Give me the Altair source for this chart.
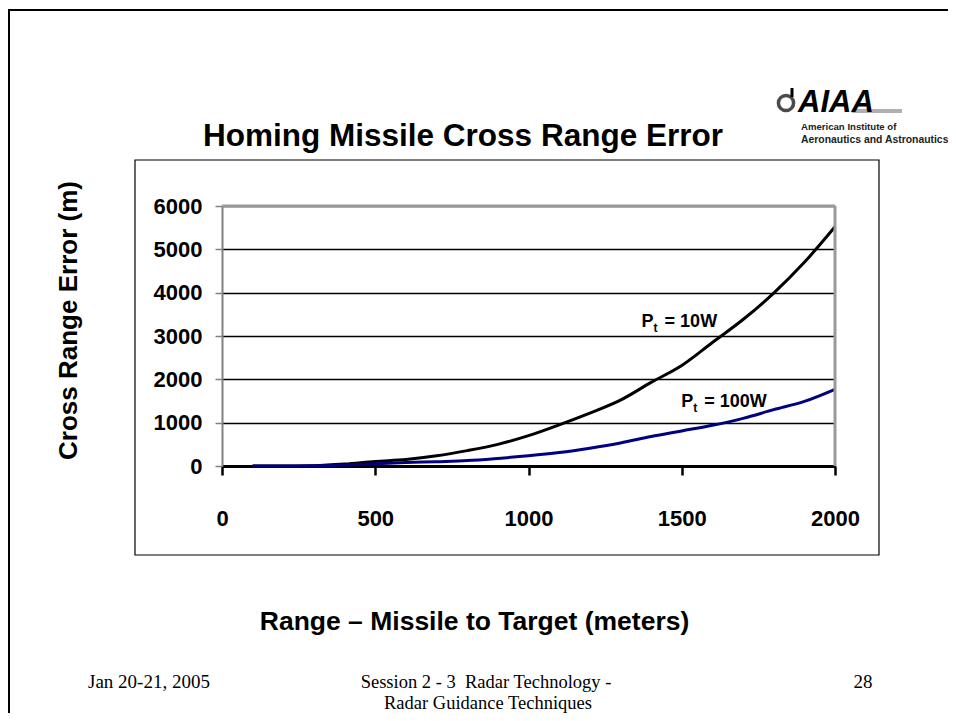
import altair as alt
import pandas as pd

# ---- data ----
ranges = [100, 200, 300, 400, 500, 600, 700, 800, 900, 1000,
          1100, 1200, 1300, 1400, 1500, 1600, 1700, 1800, 1900, 2000]
err_10w = [0, 0, 8, 45, 105, 150, 235, 355, 500, 700,
           950, 1220, 1520, 1930, 2320, 2850, 3380, 3990, 4700, 5520]
err_100w = [0, 0, 5, 22, 50, 78, 100, 125, 175, 235,
            310, 410, 530, 680, 810, 940, 1100, 1300, 1490, 1770]
series_names = ["Pt = 10W", "Pt = 100W"]
series_colors = ["#000000", "#000080"]
x_ticks = [0, 500, 1000, 1500, 2000]
y_ticks = [0, 1000, 2000, 3000, 4000, 5000, 6000]

ann_x = [1369, 1498]
ann_y = [3215, 1373]
ann_rest = ["= 10W", "= 100W"]

title_text = "Homing Missile Cross Range Error"
x_title = "Range \u2013 Missile to Target (meters)"
y_title = "Cross Range Error (m)"
footer_left = "Jan 20-21, 2005"
footer_mid1 = "Session 2 - 3\u00a0 Radar Technology -"
footer_mid2 = "Radar Guidance Techniques"
footer_right = "28"
logo_text = "AIAA"
logo_line1 = "American Institute of"
logo_line2 = "Aeronautics and Astronautics"

# ---- layout (page pixel of plot origin) ----
W, H = 613, 260
OX, OY = 222, 206
TOTAL_W, TOTAL_H = 940, 705
FONT = "Liberation Sans"
SERIF = "Liberation Serif"

rows = []
for r, a, b in zip(ranges, err_10w, err_100w):
    rows.append({"range": r, "error": a, "series": series_names[0]})
    rows.append({"range": r, "error": b, "series": series_names[1]})
df = pd.DataFrame(rows)

ann = pd.DataFrame({"ax": ann_x, "ay": ann_y, "p": ["P", "P"], "sub": ["t", "t"],
                    "rest": ann_rest})

xenc = alt.X("range:Q", scale=alt.Scale(domain=[0, 2000], nice=False),
             axis=alt.Axis(values=x_ticks, format="d", title=x_title, grid=False,
                           domainColor="black", domainWidth=3,
                           tickColor="black", tickWidth=2.5, tickSize=9,
                           labelFont=FONT, labelFontSize=22, labelFontWeight="bold",
                           labelColor="black", labelPadding=33, labelFlush=False,
                           titleFont=FONT, titleFontSize=26.5, titleFontWeight="bold",
                           titleColor="black", titleX=474 - OX, titleY=155,
                           titleAlign="center", titleBaseline="middle"))
yenc = alt.Y("error:Q", scale=alt.Scale(domain=[0, 6000], nice=False),
             axis=alt.Axis(values=y_ticks, format="d", title=y_title, grid=True,
                           gridColor="black", gridWidth=1.5,
                           domainColor="#808080", domainWidth=2,
                           tickColor="#808080", tickWidth=1.5, tickSize=7,
                           labelFont=FONT, labelFontSize=22, labelFontWeight="bold",
                           labelColor="black", labelPadding=13,
                           titleFont=FONT, titleFontSize=26, titleFontWeight="bold",
                           titleColor="black", titleX=68 - OX, titleY=320 - OY,
                           titleAngle=270, titleAlign="center", titleBaseline="middle"))

lines = alt.Chart(df).mark_line(strokeWidth=3, interpolate="monotone").encode(
    x=xenc, y=yenc,
    color=alt.Color("series:N", scale=alt.Scale(domain=series_names, range=series_colors),
                    legend=None),
)

one = alt.Data(values=[{"t": 0}])


def hrule(x1, x2, y, color, width):
    return alt.Chart(one).mark_rule(color=color, strokeWidth=width).encode(
        x=alt.value(x1 - OX), x2=alt.value(x2 - OX), y=alt.value(y - OY))


def vrule(x, y1, y2, color, width):
    return alt.Chart(one).mark_rule(color=color, strokeWidth=width).encode(
        x=alt.value(x - OX), y=alt.value(y1 - OY), y2=alt.value(y2 - OY))


def box(x1, y1, x2, y2, width):
    return alt.Chart(one).mark_rect(fill="white", fillOpacity=0, stroke="black",
                                    strokeWidth=width).encode(
        x=alt.value(x1 - OX), x2=alt.value(x2 - OX),
        y=alt.value(y1 - OY), y2=alt.value(y2 - OY))


def label(text, x, y, size, weight="normal", font=FONT, align="left",
          style="normal", color="black"):
    return alt.Chart(alt.Data(values=[{"t": text}])).mark_text(
        align=align, baseline="alphabetic", fontSize=size, fontWeight=weight,
        font=font, fontStyle=style, color=color).encode(
        x=alt.value(x - OX), y=alt.value(y - OY), text="t:N")


# plot area border (gray top and right)
top_border = hrule(OX, OX + W, OY, "#9a9a9a", 3)
right_border = vrule(OX + W, OY, OY + H, "#9a9a9a", 3)

# chart object frame
frame = box(135, 160, 879, 555, 1.2)

# slide border: right and bottom edges fall outside the picture
slide = box(9, 10, 975, 740, 2)

ann_p = alt.Chart(ann).mark_text(align="left", baseline="alphabetic", fontSize=18,
                                 fontWeight="bold", font=FONT, color="black").encode(
    x="ax:Q", y="ay:Q", text="p:N")
ann_t = alt.Chart(ann).mark_text(align="left", baseline="alphabetic", fontSize=12,
                                 fontWeight="bold", font=FONT, color="black",
                                 dx=12, dy=5).encode(
    x="ax:Q", y="ay:Q", text="sub:N")
ann_r = alt.Chart(ann).mark_text(align="left", baseline="alphabetic", fontSize=18,
                                 fontWeight="bold", font=FONT, color="black",
                                 dx=23).encode(
    x="ax:Q", y="ay:Q", text="rest:N")

title = label(title_text, 463, 146, 31.5, weight="bold", align="center")
f1 = label(footer_left, 88, 688, 19, font=SERIF)
f2 = label(footer_mid1, 486, 688, 18.5, font=SERIF, align="center")
f3 = label(footer_mid2, 488, 709, 18.5, font=SERIF, align="center")
f4 = label(footer_right, 863, 688, 19, font=SERIF, align="center")

logo_ring = alt.Chart(one).mark_point(shape="circle", filled=False, size=230,
                                      strokeWidth=3.5, color="black").encode(
    x=alt.value(786 - OX), y=alt.value(103 - OY))
logo_stem = vrule(792, 88, 97, "black", 3)
logo_swoosh = hrule(852, 902, 111, "#b0b0b0", 4)
logo_a = label(logo_text, 798, 112, 31, weight="bold", style="italic")
logo_l1 = label(logo_line1, 801, 130, 9.6, weight="bold", color="#222222")
logo_l2 = label(logo_line2, 801, 143, 10.4, weight="bold", color="#222222")

chart = alt.layer(
    slide, frame,
    lines, top_border, right_border,
    ann_p, ann_t, ann_r,
    title, f1, f2, f3, f4,
    logo_swoosh, logo_ring, logo_stem, logo_a, logo_l1, logo_l2,
).properties(
    width=W, height=H,
    autosize=alt.AutoSizeParams(type="none"),
    padding={"left": OX - 8, "top": OY - 8, "right": TOTAL_W - (OX - 8) - W,
             "bottom": TOTAL_H - (OY - 8) - H},
    background="white",
).configure_view(stroke=None)

chart.save("out.html", embed_options={"renderer": "svg", "actions": False})
